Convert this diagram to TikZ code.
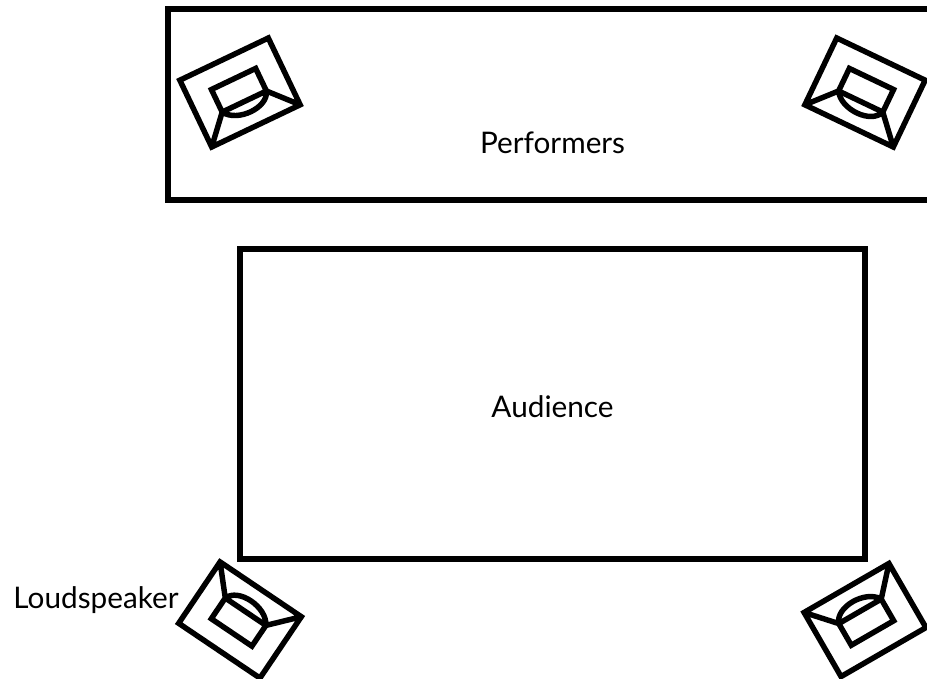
\documentclass[tikz,border=0pt]{standalone}
\usepackage{fontspec}
\setmainfont{Lato}
\usetikzlibrary{positioning}
\begin{document}
\begin{tikzpicture}[
  x=0.75pt, y=-0.75pt,
  area/.style={draw, line width=3.9pt, inner sep=0pt},
  lab/.style={inner sep=0pt, font=\fontsize{22.3pt}{26pt}\selectfont},
  speaker/.pic={
    \draw[line width=4.1pt, line join=miter, x=0.75pt, y=0.75pt]
      (-49,-37) rectangle (49,37)
      (-24.5,-10) rectangle (24.5,15)
      (-49,-37) -- (-24.5,-10)
      (49,-37) -- (24.5,-10)
      (-24.5,-10) .. controls (-15,-26) and (19,-26) .. (24.5,-10);
  }
]
  \useasboundingbox (0,0) rectangle (927,678);
  \node[area, minimum width=585pt, minimum height=143.25pt] (stage) at (558,104.5) {};
  \node[area, minimum width=468.75pt, minimum height=232.5pt] (audience) at (552.5,404) {};
  \node[lab] (performers) at (552.5,142.5) {Performers};
  \node[lab] (listeners) at (552.5,407) {Audience};
  \node[lab] (loudspeaker) at (96,600.5) {Loudspeaker};

  \pic[rotate=25.5] at (240,92.5) {speaker};
  \pic[rotate=-25.5] at (865,92.5) {speaker};
  \pic[rotate=146] at (240,620) {speaker};
  \pic[rotate=210] at (865,620) {speaker};
\end{tikzpicture}
\end{document}
